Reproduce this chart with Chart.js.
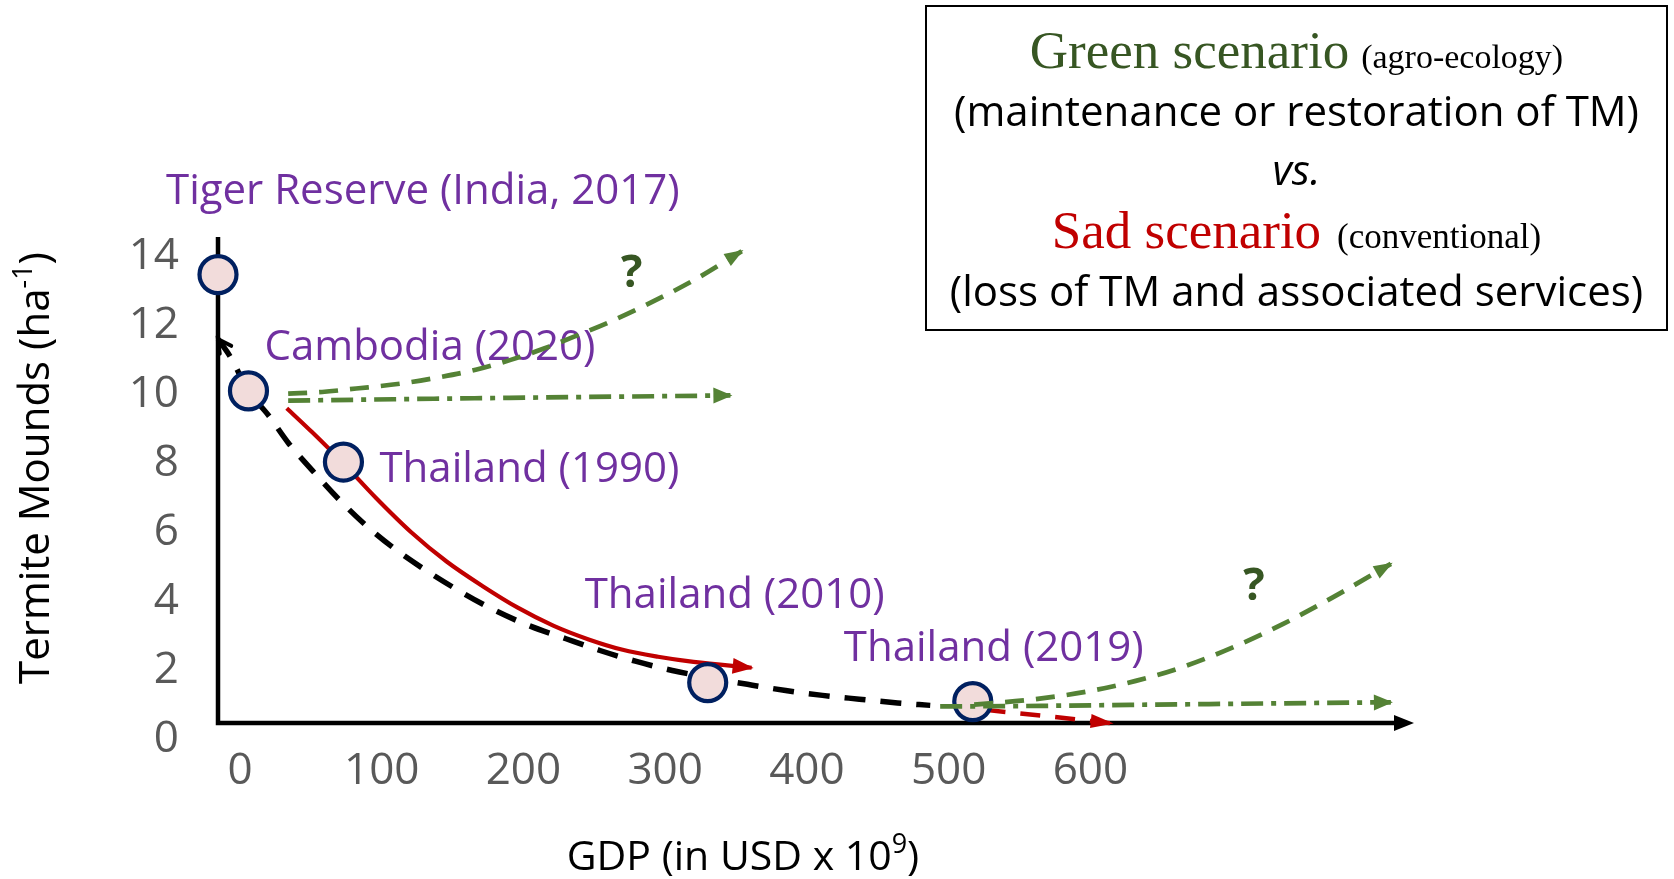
<!DOCTYPE html>
<html>
<head>
<meta charset="utf-8">
<title>Termite mounds vs GDP</title>
<script src="https://cdn.jsdelivr.net/npm/chart.js@4.4.1/dist/chart.umd.min.js"></script>
<style>
  html, body { margin: 0; padding: 0; background: #ffffff; }
  #wrap { width: 1674px; height: 879px; }
</style>
</head>
<body>
<div id="wrap"><canvas id="chart" width="1674" height="879"></canvas></div>
<script>
// === Data (GDP in USD x 10^9, termite mounds per ha) ===

const sites = ["Tiger Reserve (India, 2017)", "Cambodia (2020)", "Thailand (1990)", "Thailand (2010)", "Thailand (2019)"];
const siteGdp = [-15.5, 6, 73, 330, 517];
const siteMounds = [13.47, 10.1, 8.04, 1.65, 1.1];

// black dashed trend
const trendGdp = [-15.5, -7, 6, 20, 34, 51, 70, 89, 110, 132, 155, 179, 204, 230, 254, 279, 305, 330, 358, 385, 411, 437, 464, 487];
const trendMounds = [11.6, 11.1, 10.1, 9.4, 8.6, 7.8, 6.95, 6.2, 5.5, 4.88, 4.3, 3.76, 3.3, 2.92, 2.58, 2.27, 2.0, 1.8, 1.6, 1.42, 1.28, 1.17, 1.06, 0.99];

// sad scenario (red)
const sadGdp = [33, 51, 73, 96, 121, 146, 171, 196, 221, 246, 270, 295, 320, 361];
const sadMounds = [9.6, 8.9, 8.0, 7.0, 6.0, 5.15, 4.45, 3.82, 3.3, 2.9, 2.6, 2.4, 2.25, 2.08];
const sadNextGdp = [526, 571, 615];
const sadNextMounds = [0.86, 0.67, 0.47];

// green scenario (from Cambodia)
const greenUpGdp = [34, 58, 82, 113, 141, 167, 191, 214, 238, 262, 286, 322, 354];
const greenUpMounds = [10.02, 10.07, 10.17, 10.31, 10.5, 10.72, 11.0, 11.32, 11.71, 12.12, 12.58, 13.35, 14.15];
const greenFlatGdp = [34, 190, 346];
const greenFlatMounds = [9.82, 9.9, 9.97];

// green scenario (from Thailand 2019)
const greenUpNextGdp = [518, 557, 599, 632, 665, 701, 736, 771, 812];
const greenUpNextMounds = [1.01, 1.15, 1.4, 1.7, 2.1, 2.68, 3.35, 4.12, 5.09];
const greenFlatNextGdp = [494, 548, 642, 736, 812];
const greenFlatNextMounds = [0.96, 0.97, 1.01, 1.05, 1.08];

const xTicks = [0, 100, 200, 300, 400, 500, 600];
const yTicks = [0, 2, 4, 6, 8, 10, 12, 14];

// === Styles ===

const PURPLE = "#7030A0";
const GREEN = "#548235";
const DARK_GREEN = "#375623";
const RED = "#C00000";
const SANS = '"Open Sans", sans-serif';
const SERIF = '"Liberation Serif", serif';

const axisBaseValue = 0.48; // height of the drawn x-axis arrow

// label position relative to its circle (text left, baseline)
const siteLabelShift = [[-52, -71], [16, -31], [36, 20], [-123, -75], [-129, -41]];

function pts(xs, ys) {
  return xs.map((x, i) => ({ x: x, y: ys[i] }));
}

function curve(label, xs, ys, color, dash, width, order, arrow, note) {
  return {
    label: label,
    data: pts(xs, ys),
    showLine: true,
    borderColor: color,
    borderWidth: width,
    borderDash: dash,
    borderCapStyle: "butt",
    pointRadius: 0,
    pointHoverRadius: 0,
    pointHitRadius: 0,
    cubicInterpolationMode: "monotone",
    clip: false,
    order: order,
    arrow: arrow,
    note: note
  };
}

// === Drawing helpers ===

function drawHead(ctx, tipX, tipY, fromX, fromY, a) {
  const ang = Math.atan2(tipY - fromY, tipX - fromX);
  ctx.save();
  ctx.translate(tipX, tipY);
  ctx.rotate(ang);
  ctx.setLineDash([]);
  ctx.beginPath();
  if (a.open) {
    ctx.moveTo(-a.len, -a.half);
    ctx.lineTo(0, 0);
    ctx.lineTo(-a.len, a.half);
    ctx.strokeStyle = a.color;
    ctx.lineWidth = 4;
    ctx.lineCap = "round";
    ctx.stroke();
  } else {
    ctx.moveTo(2, 0);
    ctx.lineTo(-a.len, -a.half);
    ctx.lineTo(-a.len, a.half);
    ctx.closePath();
    ctx.fillStyle = a.color;
    ctx.fill();
  }
  ctx.restore();
}

function drawRich(ctx, parts, x, y, align) {
  let total = 0;
  parts.forEach(p => {
    ctx.font = p.font;
    p.w = ctx.measureText(p.text).width;
    total += p.w + (p.gap || 0);
  });
  let cx = align === "center" ? x - total / 2 : x;
  ctx.textAlign = "left";
  ctx.textBaseline = "alphabetic";
  parts.forEach(p => {
    cx += p.gap || 0;
    ctx.font = p.font;
    ctx.fillStyle = p.color;
    ctx.fillText(p.text, cx, y + (p.dy || 0));
    cx += p.w;
  });
}

const sketchPlugin = {
  id: "sketch",
  beforeDatasetsDraw(chart) {
    const { ctx, chartArea, scales } = chart;
    const baseY = scales.y.getPixelForValue(axisBaseValue);

    // hand drawn axes
    ctx.save();
    ctx.strokeStyle = "#000";
    ctx.lineWidth = 4.5;
    ctx.lineJoin = "miter";
    ctx.beginPath();
    ctx.moveTo(chartArea.left, chartArea.top);
    ctx.lineTo(chartArea.left, baseY);
    ctx.lineTo(chartArea.right - 16, baseY);
    ctx.stroke();
    ctx.fillStyle = "#000";
    ctx.beginPath();
    ctx.moveTo(chartArea.right, baseY);
    ctx.lineTo(chartArea.right - 20, baseY - 8);
    ctx.lineTo(chartArea.right - 20, baseY + 8);
    ctx.closePath();
    ctx.fill();

    // site names
    const meta = chart.getDatasetMeta(0);
    ctx.font = "42px " + SANS;
    ctx.fillStyle = PURPLE;
    ctx.textAlign = "left";
    ctx.textBaseline = "alphabetic";
    meta.data.forEach((p, i) => {
      const s = siteLabelShift[i];
      ctx.fillText(sites[i], p.x + s[0], p.y + s[1]);
    });
    ctx.restore();
  },

  afterDatasetsDraw(chart) {
    const { ctx } = chart;
    ctx.save();
    chart.data.datasets.forEach((ds, i) => {
      if (!ds.arrow) return;
      const els = chart.getDatasetMeta(i).data;
      let tip, from;
      if (ds.arrow.at === "start") {
        tip = els[0];
        from = els[1];
      } else {
        tip = els[els.length - 1];
        from = els[els.length - 2];
        if (tip.cp1x !== undefined && Math.hypot(tip.cp1x - tip.x, tip.cp1y - tip.y) > 1) {
          from = { x: tip.cp1x, y: tip.cp1y };
        }
      }
      drawHead(ctx, tip.x, tip.y, from.x, from.y, Object.assign({ color: ds.borderColor }, ds.arrow));

      if (ds.note) {
        ctx.font = "bold 45px " + SANS;
        ctx.fillStyle = DARK_GREEN;
        ctx.textAlign = "center";
        ctx.textBaseline = "middle";
        ctx.fillText("?", tip.x + ds.note[0], tip.y + ds.note[1]);
      }
    });
    ctx.restore();
  },

  afterDraw(chart) {
    const { ctx, chartArea } = chart;
    ctx.save();

    // axis titles
    drawRich(ctx, [
      { text: "GDP (in USD x 10", font: "41px " + SANS, color: "#000" },
      { text: "9", font: "27px " + SANS, color: "#000", dy: -17 },
      { text: ")", font: "41px " + SANS, color: "#000" }
    ], (chartArea.left + 1090) / 2 + 89, 870, "center");

    ctx.save();
    ctx.translate(49, 468);
    ctx.rotate(-Math.PI / 2);
    drawRich(ctx, [
      { text: "Termite Mounds (ha", font: "42px " + SANS, color: "#000" },
      { text: "-1", font: "27px " + SANS, color: "#000", dy: -17 },
      { text: ")", font: "42px " + SANS, color: "#000" }
    ], 0, 0, "center");
    ctx.restore();

    // scenario box
    const bx = 926, by = 6, bw = 741, bh = 324;
    const mid = bx + bw / 2;
    ctx.strokeStyle = "#000";
    ctx.lineWidth = 2;
    ctx.strokeRect(bx, by, bw, bh);

    drawRich(ctx, [
      { text: "Green scenario", font: "53px " + SERIF, color: DARK_GREEN },
      { text: "(agro-ecology)", font: "34px " + SERIF, color: "#000", gap: 12 }
    ], mid, 68, "center");
    drawRich(ctx, [
      { text: "(maintenance or restoration of TM)", font: "42px " + SANS, color: "#000" }
    ], mid, 126, "center");
    drawRich(ctx, [
      { text: "vs.", font: "italic 42px " + SANS, color: "#000" }
    ], mid, 185, "center");
    drawRich(ctx, [
      { text: "Sad scenario", font: "53px " + SERIF, color: RED },
      { text: "(conventional)", font: "35px " + SERIF, color: "#000", gap: 16 }
    ], mid, 248, "center");
    drawRich(ctx, [
      { text: "(loss of TM and associated services)", font: "42px " + SANS, color: "#000" }
    ], mid, 306, "center");

    ctx.restore();
  }
};

// === Chart ===

function initializeChart() {
  Chart.defaults.font.family = SANS;

  const datasets = [
    {
      label: "Sites",
      data: pts(siteGdp, siteMounds),
      showLine: false,
      pointRadius: 18.5,
      pointHoverRadius: 18.5,
      pointBorderWidth: 4.2,
      pointBackgroundColor: "#F2DCDB",
      pointBorderColor: "#002060",
      clip: false,
      order: 1
    },
    curve("Trend", trendGdp, trendMounds, "#000000", [21, 15], 5.5, 2,
      { at: "start", len: 13, half: 7, open: true }),
    curve("Sad scenario", sadGdp, sadMounds, RED, [], 4.2, 2,
      { at: "end", len: 19, half: 8 }),
    curve("Sad scenario (next)", sadNextGdp, sadNextMounds, RED, [20, 15], 4.5, 2,
      { at: "end", len: 21, half: 7 }),
    curve("Green scenario (rise)", greenUpGdp, greenUpMounds, GREEN, [19, 12], 4.7, 2,
      { at: "end", len: 17, half: 7 }, [-110, 23]),
    curve("Green scenario (maintain)", greenFlatGdp, greenFlatMounds, GREEN, [22, 8, 5, 8], 4.7, 2,
      { at: "end", len: 17, half: 8 }),
    curve("Green scenario next (rise)", greenUpNextGdp, greenUpNextMounds, GREEN, [19, 12], 4.7, 0,
      { at: "end", len: 17, half: 7 }, [-137, 23]),
    curve("Green scenario next (maintain)", greenFlatNextGdp, greenFlatNextMounds, GREEN, [22, 8, 5, 8], 4.7, 0,
      { at: "end", len: 17, half: 8 })
  ];

  new Chart(document.getElementById("chart"), {
    type: "scatter",
    data: { datasets: datasets },
    options: {
      responsive: false,
      animation: false,
      events: [],
      layout: { padding: { top: 237, right: 260, bottom: 0, left: 0 } },
      plugins: {
        legend: { display: false },
        tooltip: { enabled: false }
      },
      scales: {
        x: {
          type: "linear",
          position: "bottom",
          min: -15.5,
          max: 828.3,
          grid: { display: false, drawTicks: false },
          border: { display: false },
          ticks: { font: { size: 44 }, color: "#595959", padding: 2, maxRotation: 0, autoSkip: false },
          afterBuildTicks: (scale) => { scale.ticks = xTicks.map(v => ({ value: v })); },
          afterFit: (scale) => { scale.height = 136; }
        },
        y: {
          type: "linear",
          position: "left",
          min: -0.1,
          max: 14.56,
          grid: { display: false, drawTicks: false },
          border: { display: false },
          ticks: { font: { size: 44 }, color: "#595959", padding: 39, autoSkip: false },
          afterBuildTicks: (scale) => { scale.ticks = yTicks.map(v => ({ value: v })); },
          afterFit: (scale) => { scale.width = 218; }
        }
      }
    },
    plugins: [sketchPlugin]
  });
}

document.addEventListener("DOMContentLoaded", initializeChart);
</script>
</body>
</html>
